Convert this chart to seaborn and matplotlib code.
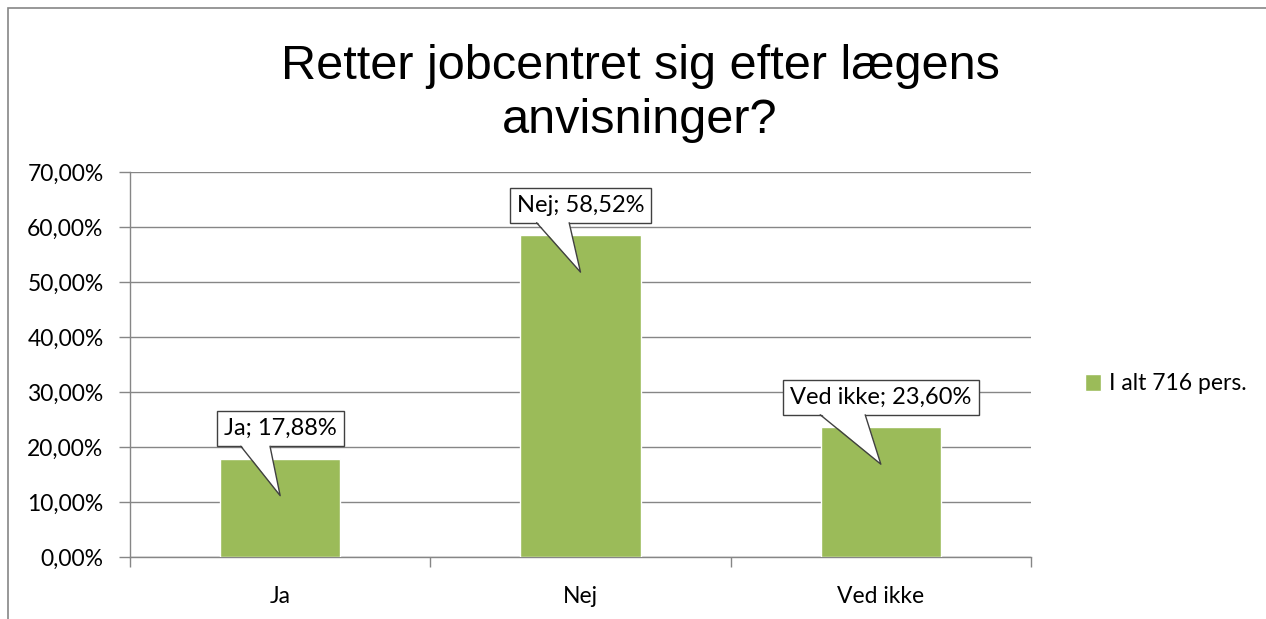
import matplotlib
matplotlib.use("Agg")
import matplotlib.pyplot as plt
import matplotlib.patches as mpatches
from matplotlib.transforms import IdentityTransform
import seaborn as sns
import pandas as pd

# chart data
categories = ["Ja", "Nej", "Ved ikke"]
shares = [0.1788, 0.5852, 0.2360]
series_name = "I alt 716 pers."
title = "Retter jobcentret sig efter lægens\nanvisninger?"
y_ticks = [0.0, 0.1, 0.2, 0.3, 0.4, 0.5, 0.6, 0.7]

bar_color = "#9BBB59"
axis_gray = "#868686"

sns.set_style("white")
plt.rcParams["font.family"] = ["Lato", "DejaVu Sans"]
plt.rcParams["text.color"] = "black"
plt.rcParams["xtick.color"] = "black"
plt.rcParams["ytick.color"] = "black"

df = pd.DataFrame({"Svar": categories, "Andel": shares})

fig = plt.figure(figsize=(12.66, 6.19), dpi=100)
ax = fig.add_axes([130 / 1266, 1 - 557 / 619, 901 / 1266, 385 / 619])

sns.barplot(data=df, x="Svar", y="Andel", color=bar_color, width=0.4,
            saturation=1, label=series_name, ax=ax, zorder=3)

ax.set_xlim(-0.5, 2.5)
ax.set_ylim(0, 0.7)
ax.set_yticks(y_ticks)
ax.set_yticklabels([f"{t * 100:.2f}%".replace(".", ",") for t in y_ticks])
ax.set_xlabel("")
ax.set_ylabel("")
ax.grid(axis="y", color=axis_gray, linewidth=1, zorder=0)
ax.set_axisbelow(True)

for side in ["top", "right"]:
    ax.spines[side].set_visible(False)
for side in ["left", "bottom"]:
    ax.spines[side].set_color(axis_gray)
    ax.spines[side].set_linewidth(1)

ax.tick_params(axis="y", length=8, width=1, color=axis_gray, labelsize=16.5,
               labelcolor="black", pad=11, left=True)
ax.set_xticks([0, 1, 2])
ax.set_xticks([-0.5, 0.5, 1.5, 2.5], minor=True)
ax.tick_params(axis="x", which="major", length=0, labelsize=16.5,
               labelcolor="black", pad=21)
ax.tick_params(axis="x", which="minor", length=7, width=1, color=axis_gray,
               bottom=True)

fig.suptitle(title, fontsize=35, x=640 / 1266, y=1 - 44 / 619, va="top",
             color="black", fontfamily=["Liberation Sans", "DejaVu Sans"],
             linespacing=1.27)

leg = ax.legend(loc="center left", bbox_to_anchor=(1064 / 1266, 1 - 384 / 619),
                bbox_transform=fig.transFigure, frameon=False, fontsize=16.5,
                handlelength=0.7, handleheight=0.7, handletextpad=0.35)
for txt in leg.get_texts():
    txt.set_color("black")

# callout labels (box above bar, tail pointing down into the bar)
texts = []
for i, (cat, v) in enumerate(zip(categories, shares)):
    t = ax.annotate(f"{cat}; {v * 100:.2f}%".replace(".", ","), xy=(i, v),
                    xytext=(0, 30), textcoords="offset pixels",
                    ha="center", va="center", fontsize=17, zorder=6,
                    color="black",
                    bbox=dict(boxstyle="square,pad=0.3", fc="white",
                              ec="#404040", lw=1))
    texts.append(t)

fig.canvas.draw()
renderer = fig.canvas.get_renderer()
for i, (t, v) in enumerate(zip(texts, shares)):
    bb = t.get_bbox_patch().get_window_extent(renderer)
    w = bb.width
    cx, top = ax.transData.transform((i, v))
    tip = (cx, top - 37)
    left = (cx - 0.31 * w, bb.y0)
    right = (cx - 0.08 * w, bb.y0)
    fill = mpatches.Polygon([(left[0], left[1] + 1.5), tip, (right[0], right[1] + 1.5)],
                            closed=True, fc="white", ec="none",
                            transform=IdentityTransform(), zorder=7)
    fig.add_artist(fill)
    edge = plt.Line2D([left[0], tip[0], right[0]], [left[1], tip[1], right[1]],
                      color="#404040", lw=1, transform=IdentityTransform(),
                      zorder=8)
    fig.add_artist(edge)

# outer chart frame
frame = mpatches.Rectangle((8 / 1266, -0.1), 1.2, 1 - 8 / 619 + 0.1,
                           transform=fig.transFigure, fill=False,
                           ec=axis_gray, lw=1.2, zorder=0)
fig.add_artist(frame)

fig.savefig("out.png", dpi=100)
